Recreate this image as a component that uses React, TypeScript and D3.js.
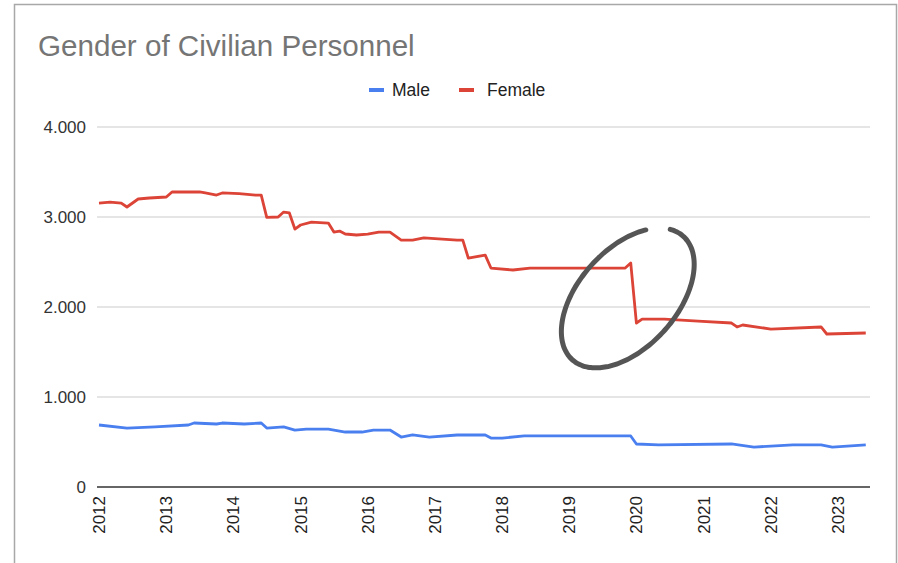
import React from "react";
import * as d3 from "d3";

const W = 898;
const H = 563;

const title = "Gender of Civilian Personnel";
const seriesNames = ["Male", "Female"];
const seriesColors = ["#4a7ff0", "#dc4437"];

const yTicks = [0, 1000, 2000, 3000, 4000];
const xTickYears = [2012, 2013, 2014, 2015, 2016, 2017, 2018, 2019, 2020, 2021, 2022, 2023];

const femaleDates = [
  "2012-01", "2012-03", "2012-05", "2012-06", "2012-08", "2012-10", "2013-01", "2013-02",
  "2013-07", "2013-08", "2013-10", "2013-11", "2014-02", "2014-05", "2014-06", "2014-07",
  "2014-09", "2014-10", "2014-11", "2014-12", "2015-01", "2015-03", "2015-06", "2015-07",
  "2015-08", "2015-09", "2015-11", "2016-01", "2016-03", "2016-05", "2016-07", "2016-09",
  "2016-11", "2017-05", "2017-06", "2017-07", "2017-10", "2017-11", "2018-03", "2018-06",
  "2019-11", "2019-12", "2020-01", "2020-02", "2020-06", "2020-12", "2021-06", "2021-07",
  "2021-08", "2022-01", "2022-10", "2022-11", "2023-06",
];
const femaleValues = [
  3155, 3166, 3155, 3111, 3200, 3211, 3222, 3278,
  3278, 3267, 3244, 3267, 3260, 3244, 3244, 2996,
  3000, 3055, 3045, 2866, 2911, 2944, 2933, 2833,
  2844, 2811, 2800, 2810, 2833, 2833, 2744, 2744,
  2767, 2744, 2744, 2544, 2577, 2433, 2411, 2433,
  2433, 2489, 1822, 1866, 1866, 1844, 1822, 1778,
  1800, 1755, 1778, 1700, 1711,
];

const maleDates = [
  "2012-01", "2012-06", "2012-11", "2013-05", "2013-06", "2013-10", "2013-11", "2014-03",
  "2014-06", "2014-07", "2014-10", "2014-12", "2015-02", "2015-06", "2015-09", "2015-12",
  "2016-02", "2016-05", "2016-07", "2016-09", "2016-12", "2017-05", "2017-10", "2017-11",
  "2018-01", "2018-05", "2019-12", "2020-01", "2020-05", "2021-06", "2021-10", "2022-05",
  "2022-10", "2022-12", "2023-06",
];
const maleValues = [
  689, 655, 667, 689, 711, 700, 711, 700,
  711, 655, 667, 633, 644, 644, 611, 611,
  633, 633, 555, 578, 555, 578, 578, 544,
  544, 567, 567, 478, 467, 478, 444, 467,
  467, 444, 467,
];

// hand-drawn circle annotation around the 2020 drop (data coords + pixel radii)
const annotationCenter = { date: "2019-11-15", value: 2100 };
const annotationRadii = { a: 83, b: 49, angle: -48, startDeg: -17, endDeg: 319 };

const parseMonth = d3.timeParse("%Y-%m");
const parseDay = d3.timeParse("%Y-%m-%d");

const locale = d3.formatLocale({ decimal: ",", thousands: ".", grouping: [3], currency: ["", ""] });
const fmt = locale.format(",");

const FONT = "'Liberation Sans', Arial, Helvetica, sans-serif";

export default function App() {
  const plotLeft = 97;
  const plotRight = 870;
  const x = d3
    .scaleTime()
    .domain([new Date(2012, 0, 1), new Date(2023, 0, 1)])
    .range([99, 838]);
  const y = d3.scaleLinear().domain([0, 4000]).range([487, 127]);

  const line = d3
    .line<[Date, number]>()
    .x((d) => x(d[0]))
    .y((d) => y(d[1]))
    .curve(d3.curveLinear);

  const male: [Date, number][] = maleDates.map((d, i) => [parseMonth(d)!, maleValues[i]]);
  const female: [Date, number][] = femaleDates.map((d, i) => [parseMonth(d)!, femaleValues[i]]);

  // annotation ellipse path
  const cx = x(parseDay(annotationCenter.date)!);
  const cy = y(annotationCenter.value);
  const th = (annotationRadii.angle * Math.PI) / 180;
  const pts: [number, number][] = [];
  for (let deg = annotationRadii.startDeg; deg <= annotationRadii.endDeg; deg += 3) {
    const t = (deg * Math.PI) / 180;
    const u = annotationRadii.a * Math.cos(t);
    const w = annotationRadii.b * Math.sin(t);
    pts.push([cx + u * Math.cos(th) - w * Math.sin(th), cy + u * Math.sin(th) + w * Math.cos(th)]);
  }
  const ellipsePath = d3.line().curve(d3.curveCatmullRom)(pts) || "";

  return (
    <svg
      width={W}
      height={H}
      style={{ position: "absolute", left: 0, top: 0, background: "#fff" }}
      fontFamily={FONT}
    >
      {/* frame */}
      <path d={`M14.5,${H} V4.5 H896.5 V${H}`} fill="none" stroke="#a8a8a8" strokeWidth={1.5} />

      {/* title */}
      <text x={38} y={56} fontSize={29.6} fill="#757575">
        {title}
      </text>

      {/* legend */}
      <g>
        <line x1={369} x2={384} y1={90} y2={90} stroke={seriesColors[0]} strokeWidth={4} />
        <text x={392} y={96} fontSize={17.5} fill="#222">
          {seriesNames[0]}
        </text>
        <line x1={459} x2={474} y1={90} y2={90} stroke={seriesColors[1]} strokeWidth={4} />
        <text x={487} y={96} fontSize={17.5} fill="#222">
          {seriesNames[1]}
        </text>
      </g>

      {/* gridlines & y labels */}
      {yTicks.map((t) => (
        <g key={t}>
          {t !== 0 && (
            <line x1={plotLeft} x2={plotRight} y1={y(t)} y2={y(t)} stroke="#dcdcdc" strokeWidth={1.5} />
          )}
          <text x={86} y={y(t)} dy="0.35em" textAnchor="end" fontSize={17} fill="#333">
            {fmt(t)}
          </text>
        </g>
      ))}

      {/* lines */}
      <path d={line(male) || ""} fill="none" stroke={seriesColors[0]} strokeWidth={2.8} strokeLinejoin="round" />
      <path d={line(female) || ""} fill="none" stroke={seriesColors[1]} strokeWidth={2.8} strokeLinejoin="round" />

      {/* baseline */}
      <line x1={plotLeft} x2={plotRight} y1={y(0)} y2={y(0)} stroke="#333" strokeWidth={1.5} />

      {/* x labels */}
      {xTickYears.map((yr) => {
        const xx = x(new Date(yr, 0, 1));
        return (
          <text
            key={yr}
            transform={`translate(${xx},496) rotate(-90)`}
            textAnchor="end"
            dy="0.35em"
            fontSize={17}
            fill="#222"
          >
            {String(yr)}
          </text>
        );
      })}

      {/* annotation */}
      <path d={ellipsePath} fill="none" stroke="#555" strokeWidth={5} strokeLinecap="round" />
    </svg>
  );
}
